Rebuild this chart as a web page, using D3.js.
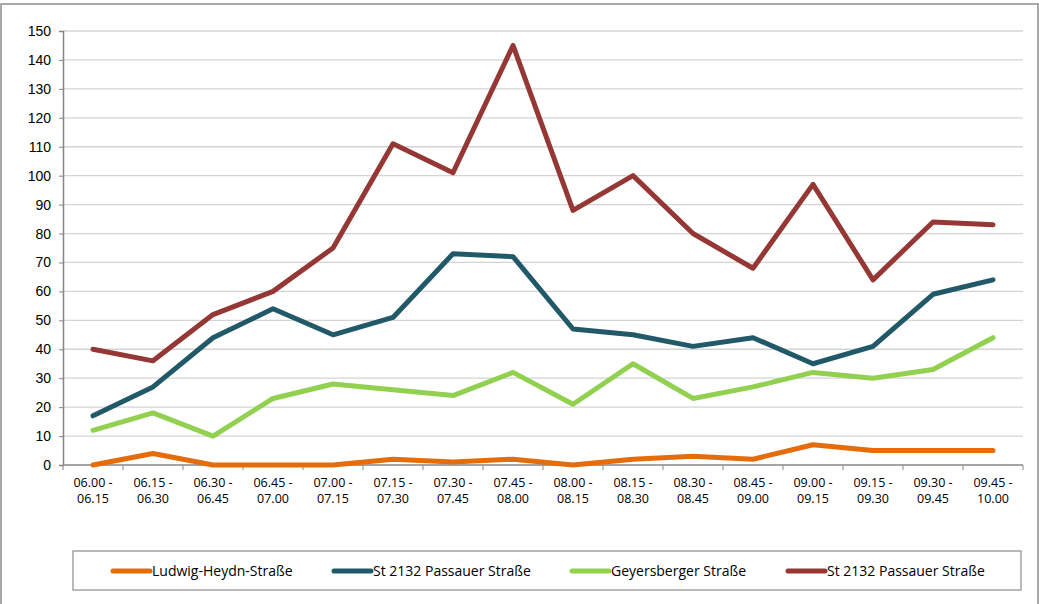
<!DOCTYPE html>
<html>
<head>
<meta charset="utf-8">
<script src="https://cdn.jsdelivr.net/npm/d3@7"></script>
<style>
  body { margin: 0; background: #fff; }
  svg { display: block; font-family: "Open Sans", "DejaVu Sans", sans-serif; }
</style>
</head>
<body>
<div id="chart"></div>
<script>
// time slots (two-line labels)
const slots = [
  ["06.00 -", "06.15"], ["06.15 -", "06.30"], ["06.30 -", "06.45"], ["06.45 -", "07.00"],
  ["07.00 -", "07.15"], ["07.15 -", "07.30"], ["07.30 -", "07.45"], ["07.45 -", "08.00"],
  ["08.00 -", "08.15"], ["08.15 -", "08.30"], ["08.30 -", "08.45"], ["08.45 -", "09.00"],
  ["09.00 -", "09.15"], ["09.15 -", "09.30"], ["09.30 -", "09.45"], ["09.45 -", "10.00"]
];
const seriesNames = ["Ludwig-Heydn-Straße", "St 2132 Passauer Straße", "Geyersberger Straße", "St 2132 Passauer Straße"];
const ludwig = [0, 4, 0, 0, 0, 2, 1, 2, 0, 2, 3, 2, 7, 5, 5, 5];
const passauerA = [17, 27, 44, 54, 45, 51, 73, 72, 47, 45, 41, 44, 35, 41, 59, 64];
const geyersberger = [12, 18, 10, 23, 28, 26, 24, 32, 21, 35, 23, 27, 32, 30, 33, 44];
const passauerB = [40, 36, 52, 60, 75, 111, 101, 145, 88, 100, 80, 68, 97, 64, 84, 83];
const yTicks = [0, 10, 20, 30, 40, 50, 60, 70, 80, 90, 100, 110, 120, 130, 140, 150];
const colors = ["#E46C0A", "#215968", "#92D050", "#953735"];

const width = 1039, height = 604;
const margin = { top: 31, left: 63, right: 16, bottom: 139 };
const iwidth = width - margin.left - margin.right;
const iheight = height - margin.top - margin.bottom;

const svg = d3.select("#chart").append("svg")
  .attr("width", width)
  .attr("height", height);

// outer frame
svg.append("rect")
  .attr("x", 1).attr("y", 4)
  .attr("width", 1037).attr("height", 610)
  .attr("fill", "none")
  .attr("stroke", "#8c8c8c")
  .attr("stroke-width", 1.5);

const g = svg.append("g").attr("transform", `translate(${margin.left},${margin.top})`);

const x = d3.scaleBand()
  .domain(d3.range(slots.length))
  .range([0, iwidth]);

const y = d3.scaleLinear()
  .domain([0, 150])
  .range([iheight, 0]);

// gridlines
g.append("g")
  .selectAll("line")
  .data(yTicks.filter(t => t > 0))
  .enter().append("line")
  .attr("x1", 0).attr("x2", iwidth)
  .attr("y1", d => y(d)).attr("y2", d => y(d))
  .attr("stroke", "#d4d4d4")
  .attr("stroke-width", 1.3);

// y axis
const yAxis = g.append("g")
  .call(d3.axisLeft(y).tickValues(yTicks).tickSize(4).tickPadding(8));
yAxis.select(".domain").attr("stroke", "#868686").attr("stroke-width", 1.5);
yAxis.selectAll(".tick line").attr("stroke", "#868686");
yAxis.selectAll("text").attr("font-size", 14).attr("fill", "#000");

// x axis with ticks at band boundaries
const xAxisG = g.append("g").attr("transform", `translate(0,${iheight})`);
xAxisG.append("line")
  .attr("x1", 0).attr("x2", iwidth)
  .attr("stroke", "#868686").attr("stroke-width", 1.5);
xAxisG.selectAll(".bt")
  .data(d3.range(slots.length + 1))
  .enter().append("line")
  .attr("x1", d => d === slots.length ? iwidth : x(d))
  .attr("x2", d => d === slots.length ? iwidth : x(d))
  .attr("y1", 0).attr("y2", 5)
  .attr("stroke", "#868686");
const lbl = xAxisG.selectAll(".lbl")
  .data(slots)
  .enter().append("text")
  .attr("text-anchor", "middle")
  .attr("font-size", 12.5)
  .attr("fill", "#000");
lbl.append("tspan")
  .attr("x", (d, i) => x(i) + x.bandwidth() / 2)
  .attr("y", 22)
  .text(d => d[0]);
lbl.append("tspan")
  .attr("x", (d, i) => x(i) + x.bandwidth() / 2)
  .attr("y", 38)
  .text(d => d[1]);

// lines
const allSeries = [ludwig, passauerA, geyersberger, passauerB];
const line = d3.line()
  .x((d, i) => x(i) + x.bandwidth() / 2)
  .y(d => y(d));

g.selectAll(".series")
  .data(allSeries)
  .enter().append("path")
  .attr("d", d => line(d))
  .attr("fill", "none")
  .attr("stroke", (d, i) => colors[i])
  .attr("stroke-width", 5)
  .attr("stroke-linecap", "round")
  .attr("stroke-linejoin", "round");

// legend
const legend = svg.append("g");
legend.append("rect")
  .attr("x", 73).attr("y", 551)
  .attr("width", 948).attr("height", 39)
  .attr("fill", "#fff")
  .attr("stroke", "#8c8c8c")
  .attr("stroke-width", 1.2);
const legendX = [113, 334, 572, 788];
const items = legend.selectAll(".item")
  .data(seriesNames)
  .enter().append("g")
  .attr("transform", (d, i) => `translate(${legendX[i]},571)`);
items.append("line")
  .attr("x1", 0).attr("x2", 37)
  .attr("stroke", (d, i) => colors[i])
  .attr("stroke-width", 5)
  .attr("stroke-linecap", "round");
items.append("text")
  .attr("x", 39)
  .attr("y", 5)
  .attr("font-size", 14)
  .attr("fill", "#000")
  .text(d => d);
</script>
</body>
</html>
